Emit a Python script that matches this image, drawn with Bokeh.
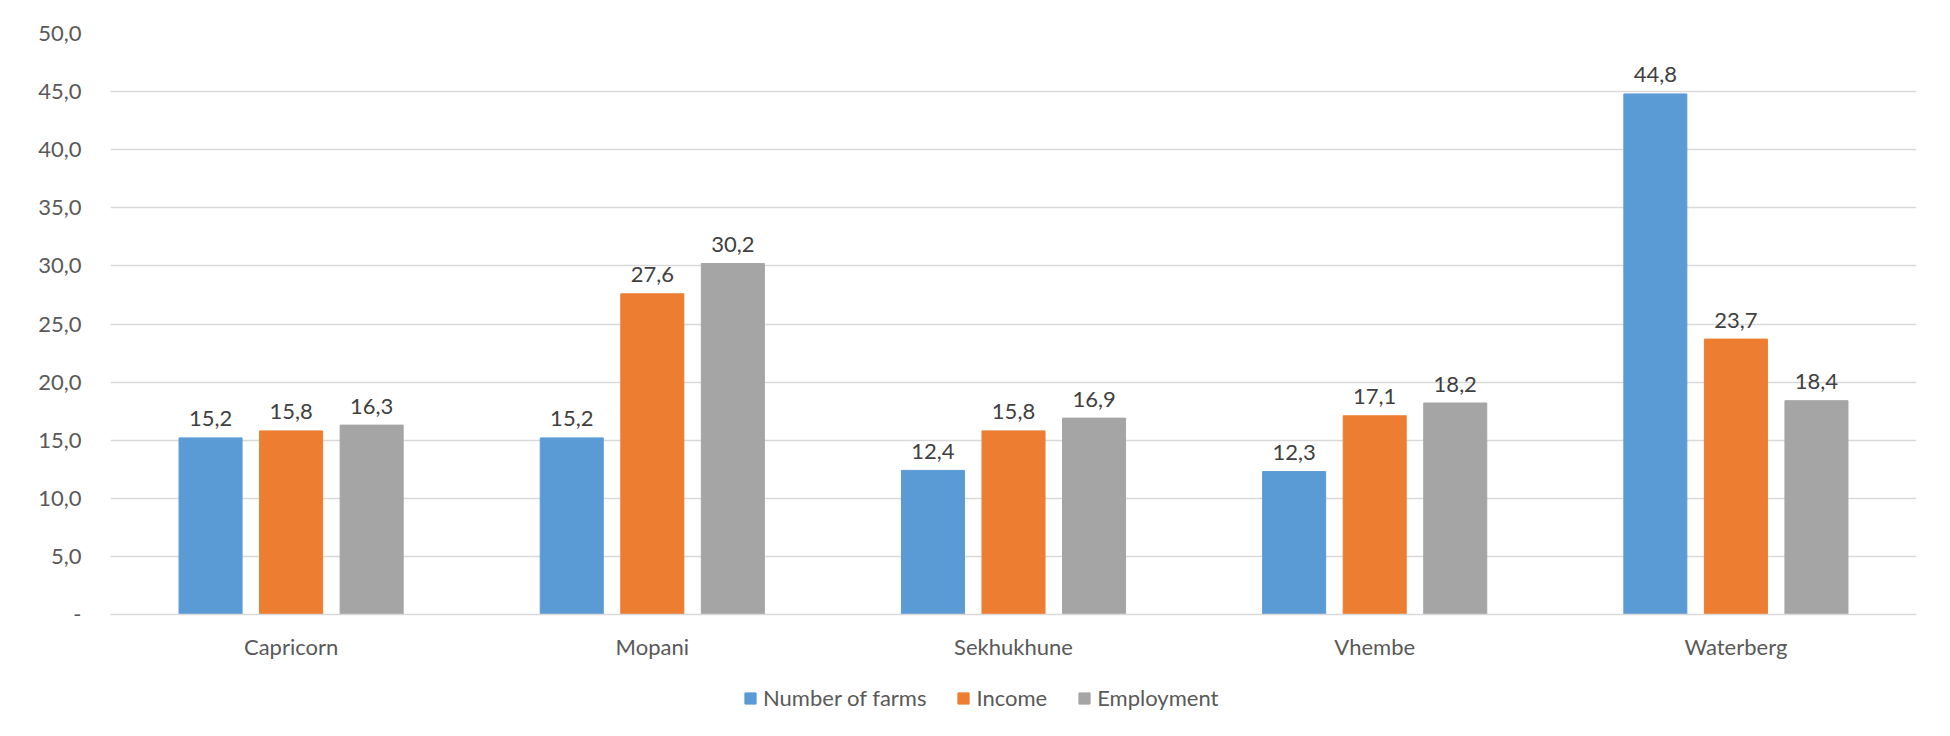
from bokeh.plotting import figure
from bokeh.layouts import column
from bokeh.models import (ColumnDataSource, FactorRange, FixedTicker, CustomJSTickFormatter,
                          Legend, LegendItem)
from bokeh.transform import dodge
from bokeh.core.properties import value
from bokeh.embed import file_html
from bokeh.resources import INLINE

districts = ["Capricorn", "Mopani", "Sekhukhune", "Vhembe", "Waterberg"]
farms = [15.2, 15.2, 12.4, 12.3, 44.8]
income = [15.8, 27.6, 15.8, 17.1, 23.7]
employment = [16.3, 30.2, 16.9, 18.2, 18.4]
series_names = ["Number of farms", "Income", "Employment"]
y_ticks = [0, 5, 10, 15, 20, 25, 30, 35, 40, 45, 50]

def fmt(v):
    return f"{v:.1f}".replace(".", ",")

src = ColumnDataSource(dict(
    cat=districts,
    farms=farms, income=income, employment=employment,
    farms_lbl=[fmt(v) for v in farms],
    income_lbl=[fmt(v) for v in income],
    employment_lbl=[fmt(v) for v in employment],
))

FONT = "Lato"
FS = "22px"
W = 1934
p = figure(width=W, height=672, x_range=FactorRange(factors=districts, range_padding=0),
           y_range=(0, 50), output_backend="svg", toolbar_location=None,
           min_border_left=110, min_border_right=18, min_border_top=33, min_border_bottom=58)
p.outline_line_color = None
p.background_fill_color = "white"
p.border_fill_color = "white"

colors = ["#5B9BD5", "#ED7D31", "#A5A5A5"]
cols = ["farms", "income", "employment"]
offs = [-0.223, 0.0, 0.223]
bw = 0.1745
for c, col, off in zip(cols, colors, offs):
    p.vbar(x=dodge("cat", off, range=p.x_range), top=c, width=bw, source=src,
           fill_color=col, line_color=col)
    p.text(x=dodge("cat", off, range=p.x_range), y=c, text=c + "_lbl", source=src,
           text_align="center", text_baseline="alphabetic", y_offset=-19,
           text_font=value(FONT), text_font_size=FS, text_color="#404040")

p.yaxis.ticker = FixedTicker(ticks=y_ticks)
p.yaxis.formatter = CustomJSTickFormatter(
    code="return tick == 0 ? '-' : tick.toFixed(1).replace('.', ',');")
p.yaxis.axis_line_color = None
p.yaxis.major_tick_line_color = None
p.yaxis.minor_tick_line_color = None
p.yaxis.major_tick_out = 0
p.yaxis.major_tick_in = 0
p.yaxis.major_label_standoff = 29
p.yaxis.major_label_text_font = FONT
p.yaxis.major_label_text_font_size = FS
p.yaxis.major_label_text_color = "#595959"

p.xaxis.axis_line_color = "#D9D9D9"
p.xaxis.axis_line_width = 1.3
p.xaxis.major_tick_line_color = None
p.xaxis.minor_tick_line_color = None
p.xaxis.major_tick_out = 0
p.xaxis.major_tick_in = 0
p.xaxis.major_label_standoff = 18
p.xaxis.major_label_text_font = FONT
p.xaxis.major_label_text_font_size = FS
p.xaxis.major_label_text_color = "#595959"

p.xgrid.grid_line_color = None
p.ygrid.grid_line_color = "#D9D9D9"
p.ygrid.grid_line_width = 1.3

# legend strip below the chart (hidden renderers only feed the legend swatches)
pl = figure(width=W, height=56, x_range=(0, 1), y_range=(0, 1), output_backend="svg",
            toolbar_location=None, min_border=0)
pl.axis.visible = False
pl.grid.grid_line_color = None
pl.outline_line_color = None
pl.border_fill_color = "white"
leg_renderers = []
for c, col in zip(cols, colors):
    r = pl.vbar(x=c, top=c, width=0.1, source=src, fill_color=col, line_color=col)
    r.visible = False
    leg_renderers.append(r)
legend = Legend(items=[LegendItem(label=n, renderers=[r]) for n, r in zip(series_names, leg_renderers)],
                orientation="horizontal", location=(633, 17), click_policy="none",
                glyph_width=14, glyph_height=14, label_standoff=6, spacing=30,
                padding=0, margin=0, border_line_alpha=0, background_fill_alpha=0,
                inactive_fill_alpha=0,
                label_text_font=FONT, label_text_font_size=FS, label_text_color="#595959")
pl.add_layout(legend, "center")

layout = column(p, pl, spacing=0)
open("out.html", "w").write(file_html(layout, INLINE))
